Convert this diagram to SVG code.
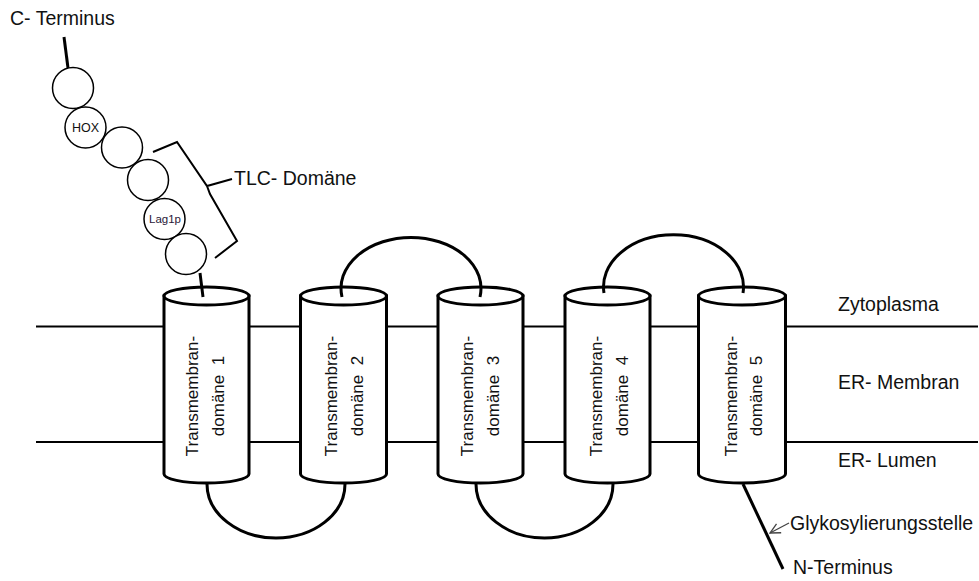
<svg xmlns="http://www.w3.org/2000/svg" width="979" height="581" viewBox="0 0 979 581">
<style>
text{font-family:"Liberation Sans",Arial,sans-serif;fill:#111}
.lbl{font-size:19.5px}
.tm{font-size:17px;text-anchor:middle;white-space:pre}
.mem{stroke:#000;stroke-width:2;fill:none}
.cyl{stroke:#000;stroke-width:3;fill:#fff}
.loop{stroke:#000;stroke-width:3;fill:none}
.bead{stroke:#000;stroke-width:1.5;fill:#fff}
.bead-t{font-size:12.5px;text-anchor:middle}
</style>
<defs>
<marker id="open" viewBox="0 0 12 12" refX="11" refY="6" markerWidth="12" markerHeight="12" markerUnits="userSpaceOnUse" orient="auto">
<path d="M1,1 L11,6 L1,11" fill="none" stroke="#444" stroke-width="1.3"/>
</marker>
</defs>
<rect width="979" height="581" fill="#fff"/>
<g id="membrane">
<line class="mem" x1="36" y1="326.5" x2="978" y2="326.5"/>
<line class="mem" x1="36" y1="442" x2="978" y2="442"/>
</g>
<g id="tm1">
<path class="cyl" d="M164,296 V474 A42.5,9 0 0 0 249,474 V296 Z"/>
<ellipse class="cyl" cx="206.5" cy="296" rx="42.5" ry="9"/>
<text class="tm" transform="translate(198,396) rotate(-90)">Transmembran-</text>
<text class="tm" xml:space="preserve" transform="translate(224,396) rotate(-90)">domäne  1</text>
</g>
<g id="tm2">
<path class="cyl" d="M300.5,296 V474 A43,9 0 0 0 386.5,474 V296 Z"/>
<ellipse class="cyl" cx="343.5" cy="296" rx="43" ry="9"/>
<text class="tm" transform="translate(337,396) rotate(-90)">Transmembran-</text>
<text class="tm" xml:space="preserve" transform="translate(363,396) rotate(-90)">domäne  2</text>
</g>
<g id="tm3">
<path class="cyl" d="M438,296 V474 A42.5,9 0 0 0 523,474 V296 Z"/>
<ellipse class="cyl" cx="480.5" cy="296" rx="42.5" ry="9"/>
<text class="tm" transform="translate(473,396) rotate(-90)">Transmembran-</text>
<text class="tm" xml:space="preserve" transform="translate(499,396) rotate(-90)">domäne  3</text>
</g>
<g id="tm4">
<path class="cyl" d="M565,296 V474 A42.5,9 0 0 0 650,474 V296 Z"/>
<ellipse class="cyl" cx="607.5" cy="296" rx="42.5" ry="9"/>
<text class="tm" transform="translate(602,396) rotate(-90)">Transmembran-</text>
<text class="tm" xml:space="preserve" transform="translate(628,396) rotate(-90)">domäne  4</text>
</g>
<g id="tm5">
<path class="cyl" d="M698.5,296 V474 A43.5,9 0 0 0 785.5,474 V296 Z"/>
<ellipse class="cyl" cx="742" cy="296" rx="43.5" ry="9"/>
<text class="tm" transform="translate(737,396) rotate(-90)">Transmembran-</text>
<text class="tm" xml:space="preserve" transform="translate(762,396) rotate(-90)">domäne  5</text>
</g>
<g id="tail">
<g id="bead1"><circle class="bead" cx="73" cy="88" r="20.5"/></g>
<g id="bead-hox"><circle class="bead" cx="85.5" cy="127.5" r="20.5"/><text class="bead-t" x="85.5" y="132">HOX</text></g>
<g id="bead3"><circle class="bead" cx="122" cy="147.5" r="20.5"/></g>
<g id="bead4"><circle class="bead" cx="148" cy="180" r="20.5"/></g>
<g id="bead-lag"><circle class="bead" cx="164.5" cy="219" r="20.5"/><text class="bead-t" x="165" y="223" style="font-size:11.5px;fill:#2a1838">Lag1p</text></g>
<g id="bead6"><circle class="bead" cx="186" cy="254" r="20.5"/></g>
</g>
<g id="connectors">
<line class="loop" x1="64" y1="37" x2="68" y2="68"/>
<line class="loop" x1="200" y1="273" x2="203" y2="297"/>
<path class="loop" d="M342,297 A70,51 0 1 1 480,297"/>
<path class="loop" d="M604,293 A70,52 0 1 1 743,293"/>
<path class="loop" d="M207,484 A69,54 0 1 0 345,484"/>
<path class="loop" d="M476,484 A68.5,54 0 1 0 613,484"/>
<line class="loop" x1="743" y1="484" x2="783" y2="569"/>
<line x1="789" y1="523" x2="770" y2="533" stroke="#444" stroke-width="1.3" marker-end="url(#open)"/>
</g>
<g id="bracket">
<path d="M153,152 L177,142 L207,186 L232,179 M207,186 L210,194 L237,241 L215,258" fill="none" stroke="#000" stroke-width="2" stroke-linejoin="miter"/>
</g>
<g id="labels">
<text class="lbl" x="10" y="25">C- Terminus</text>
<text class="lbl" x="234" y="185">TLC- Domäne</text>
<text class="lbl" x="838" y="311">Zytoplasma</text>
<text class="lbl" x="838" y="389">ER- Membran</text>
<text class="lbl" x="838" y="467">ER- Lumen</text>
<text class="lbl" x="790" y="530">Glykosylierungsstelle</text>
<text class="lbl" x="793" y="574">N-Terminus</text>
</g>
</svg>
